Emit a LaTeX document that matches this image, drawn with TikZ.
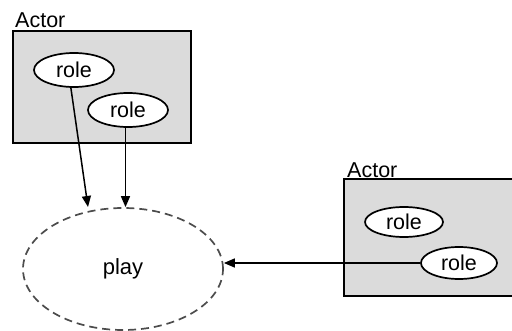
\documentclass[tikz,border=0pt]{standalone}
\usepackage{fontspec}
\setmainfont{Liberation Sans}
\usetikzlibrary{shapes.geometric,arrows.meta}
\begin{document}
\begin{tikzpicture}[x=1pt,y=-1pt,
  actorbox/.style={draw=black,line width=2pt,fill=black!14},
  rolenode/.style={ellipse,draw=black,line width=1.7pt,fill=white,inner sep=0pt,
    font=\fontsize{21.5}{23}\selectfont},
  playnode/.style={ellipse,draw=black!70,line width=1.7pt,dash pattern=on 8pt off 5pt,
    inner sep=0pt,minimum width=200pt,minimum height=122pt,font=\fontsize{22}{24}\selectfont},
  label/.style={anchor=south west,inner sep=0pt,font=\fontsize{21.5}{23}\selectfont},
  arr/.style={-{Triangle[length=11pt,width=9pt]},line width=1.5pt}]
\useasboundingbox (0,0) rectangle (512,331);
\begin{scope}
\clip (0,0) rectangle (512,331);
% left actor
\draw[actorbox] (13,31) rectangle (191,143);
\node[label] (a1) at (15,27.5) {Actor};
\node[rolenode,minimum width=80pt,minimum height=34pt] (r1) at (74,70) {role};
\node[rolenode,minimum width=80pt,minimum height=34pt] (r2) at (128,110) {role};
% right actor
\draw[actorbox] (344,179) rectangle (520,296);
\node[label] (a2) at (347,178) {Actor};
\node[rolenode,minimum width=78pt,minimum height=30pt] (r3) at (404,222) {role};
\node[rolenode,minimum width=76pt,minimum height=32pt] (r4) at (459,263) {role};
% the play
\node[playnode] (play) at (123,269) {play};
\coordinate (t1) at (88,207);
\draw[arr] (r1.260) -- (t1);
\draw[arr] (r2.262) -- (r2.262 |- play.north);
\draw[arr] (r4.west) -- (r4.west -| play.east);
\end{scope}
\end{tikzpicture}
\end{document}
